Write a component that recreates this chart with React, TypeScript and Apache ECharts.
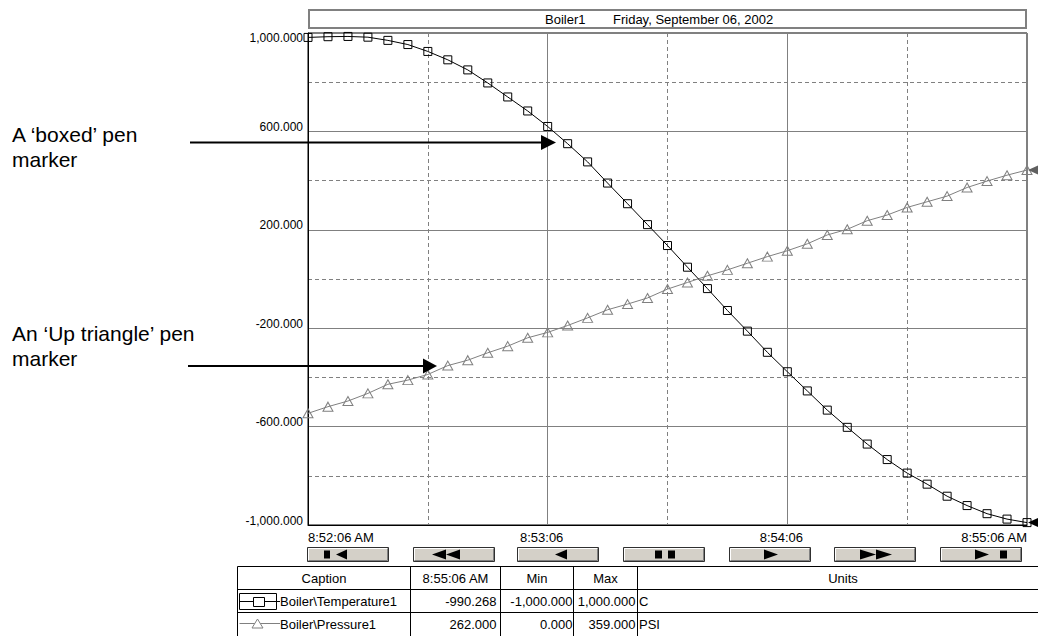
import React, { useEffect, useRef } from 'react';
import * as echarts from 'echarts';

// ---------------- data ----------------
const SAMPLE_SECONDS = [0, 5, 10, 15, 20, 25, 30, 35, 40, 45, 50, 55, 60, 65, 70, 75, 80, 85, 90, 95, 100, 105, 110, 115, 120, 125, 130, 135, 140, 145, 150, 155, 160, 165, 170, 175, 180];
const TEMPERATURE = [982, 985, 986, 983, 970, 953, 925, 891, 850, 797, 740, 683, 620, 550, 476, 390, 306, 221, 136, 48, -39, -128, -212, -298, -377, -455, -533, -603, -671, -734, -789, -834, -883, -921, -954, -976, -990.268];
const PRESSURE = [-546, -519, -496, -465, -428, -411, -388, -352, -330, -300, -273, -239, -217, -189, -158, -125, -102, -77, -41, -14, 13, 37, 64, 91, 115, 143, 179, 202, 237, 260, 291, 314, 337, 372, 398, 422, 443];
const X_TICK_SECONDS = [0, 60, 120, 180];
const X_TICK_LABELS = ['8:52:06 AM', '8:53:06', '8:54:06', '8:55:06 AM'];
const Y_LABEL_VALUES = [-1000, -600, -200, 200, 600, 1000];
const TITLE_NAME = 'Boiler1';
const TITLE_DATE = 'Friday, September 06, 2002';
const TABLE_HEADERS = ['Caption', '8:55:06 AM', 'Min', 'Max', 'Units'];
const PEN_CAPTIONS = ['Boiler\\Temperature1', 'Boiler\\Pressure1'];
const PEN_CURRENT = ['-990.268', '262.000'];
const PEN_MIN = ['-1,000.000', '0.000'];
const PEN_MAX = ['1,000.000', '359.000'];
const PEN_UNITS = ['C', 'PSI'];
const ANNOTATION_BOX = ['A \u2018boxed\u2019 pen', 'marker'];
const ANNOTATION_TRI = ['An \u2018Up triangle\u2019 pen', 'marker'];

// ---------------- helpers ----------------
const fmt = (v: number) => {
  const s = Math.abs(v).toFixed(3);
  const [i, d] = s.split('.');
  return (v < 0 ? '-' : '') + i.replace(/\B(?=(\d{3})+(?!\d))/g, ',') + '.' + d;
};

const txt = (x: number, y: number, text: string, font: string, align = 'left', z = 10, fill = '#000') => ({
  type: 'text',
  z,
  style: {
    x, y, text, font, fill,
    align, verticalAlign: 'middle',
    textAlign: align, textVerticalAlign: 'middle',
  },
});
const ln = (x1: number, y1: number, x2: number, y2: number, stroke = '#000', lineWidth = 1, z = 10) => ({
  type: 'line', z, shape: { x1, y1, x2, y2 }, style: { stroke, lineWidth },
});
const poly = (points: number[][], fill = '#000', z = 10, stroke?: string) => ({
  type: 'polygon', z, shape: { points }, style: stroke ? { fill, stroke, lineWidth: 1 } : { fill },
});
const rect = (x: number, y: number, w: number, h: number, style: any, z = 10) => ({
  type: 'rect', z, shape: { x, y, width: w, height: h }, style,
});

function buildGraphic() {
  const G: any[] = [];
  const F = '13px Arial';

  // title box
  G.push(rect(309, 10, 717, 18, { fill: '#fff', stroke: '#808080', lineWidth: 2 }));
  G.push(txt(545, 19, TITLE_NAME, F));
  G.push(txt(613, 19, TITLE_DATE, F));

  // annotations
  const AF = '21px Arial';
  G.push(txt(12, 134.5, ANNOTATION_BOX[0], AF));
  G.push(txt(12, 159.5, ANNOTATION_BOX[1], AF));
  G.push(txt(12, 333, ANNOTATION_TRI[0], AF));
  G.push(txt(12, 358, ANNOTATION_TRI[1], AF));
  G.push(ln(190, 142.5, 543, 142.5, '#000', 2, 50));
  G.push(poly([[541, 135], [556, 142.5], [541, 150]], '#000', 50));
  G.push(ln(188, 366, 425, 366, '#000', 2, 50));
  G.push(poly([[423, 358.5], [437, 366], [423, 373.5]], '#000', 50));

  // buttons
  const BX = [307, 413, 517, 623, 729, 834, 940];
  BX.forEach((bx) => {
    G.push(rect(bx + 0.5, 547.5, 81, 14, { fill: '#d4d0c8', stroke: '#303030', lineWidth: 1 }));
    G.push(ln(bx + 1.5, 548.5, bx + 80.5, 548.5, '#ffffff'));
    G.push(ln(bx + 1.5, 548.5, bx + 1.5, 560.5, '#ffffff'));
    G.push(ln(bx + 1.5, 560.5, bx + 80.5, 560.5, '#808080'));
    G.push(ln(bx + 80.5, 548.5, bx + 80.5, 560.5, '#808080'));
  });
  const T0 = 549.5, T1 = 559.5, TM = 554.5;
  const triL = (a: number, b: number) => poly([[b, T0], [a, TM], [b, T1]], '#000', 12);
  const triR = (a: number, b: number) => poly([[a, T0], [b, TM], [a, T1]], '#000', 12);
  const sq = (a: number, b: number) => rect(a, 550.5, b - a, 8, { fill: '#000' }, 12);
  G.push(sq(324, 330), triL(336, 347));
  G.push(triL(432, 446), triL(446, 460));
  G.push(triL(555, 567));
  G.push(sq(655, 662), sq(668, 675));
  G.push(triR(764, 778));
  G.push(triR(860, 876), triR(876, 892));
  G.push(triR(975, 989), sq(1000, 1007));

  // table
  const TL = 237.5, TR = 1050, TT = 566.5;
  const rows = [566.5, 589.5, 612.5];
  G.push(rect(TL, TT, TR - TL, 100, { fill: '#fff', stroke: '#000', lineWidth: 1 }));
  rows.slice(1).forEach((y) => G.push(ln(TL, y, TR, y)));
  const cols = [410.5, 500.5, 573.5, 637.5];
  cols.forEach((x) => G.push(ln(x, TT, x, 640)));
  const hc = [(TL + cols[0]) / 2, (cols[0] + cols[1]) / 2, (cols[1] + cols[2]) / 2, (cols[2] + cols[3]) / 2, 843];
  TABLE_HEADERS.forEach((h, i) => G.push(txt(hc[i], 578, h, F, 'center')));
  const ry = [601, 624];
  for (let r = 0; r < 2; r++) {
    G.push(txt(280, ry[r], PEN_CAPTIONS[r], F));
    G.push(txt(cols[1] - 4, ry[r], PEN_CURRENT[r], F, 'right'));
    G.push(txt(cols[2] - 1, ry[r], PEN_MIN[r], F, 'right'));
    G.push(txt(cols[3] - 2, ry[r], PEN_MAX[r], F, 'right'));
    G.push(txt(cols[3] + 1.5, ry[r], PEN_UNITS[r], F));
  }
  // legend glyphs
  G.push(rect(239.5, 593.5, 37, 16, { fill: 'none', stroke: '#000', lineWidth: 1 }));
  G.push(ln(239.5, 601.5, 280, 601.5, '#000'));
  G.push(rect(253.5, 597.5, 11, 9, { fill: '#fff', stroke: '#000', lineWidth: 1 }, 11));
  G.push(ln(239.5, 623.5, 280, 623.5, '#808080'));
  G.push(poly([[252, 628], [257.5, 619], [263, 628]], '#fff', 11, '#808080'));

  return G;
}

function buildOption(): any {
  const axisFont = 'Arial';
  return {
    animation: false,
    backgroundColor: '#fff',
    grid: { left: 308, top: 33, width: 719, height: 492, show: true, borderColor: '#000', borderWidth: 1, backgroundColor: '#fff' },
    xAxis: [
      {
        type: 'value', min: 0, max: 180, interval: 30,
        axisLine: { show: true, onZero: false, lineStyle: { color: '#000' } },
        axisTick: { show: false },
        axisLabel: {
          color: '#000', fontFamily: axisFont, fontSize: 13, margin: 6,
          alignMinLabel: 'left', alignMaxLabel: 'right',
          formatter: (v: number) => {
            const i = X_TICK_SECONDS.indexOf(v);
            if (i < 0) return '';
            if (i === 0 || i === X_TICK_SECONDS.length - 1) return X_TICK_LABELS[i];
            return '{mid|' + X_TICK_LABELS[i] + '}';
          },
          rich: { mid: { fontFamily: axisFont, fontSize: 13, color: '#000', padding: [0, 12, 0, 0] } },
        },
        splitLine: { show: true, lineStyle: { color: ['rgba(0,0,0,0)', '#808080'], type: [4, 3], width: 1 } },
      },
      {
        type: 'value', min: 0, max: 180, interval: 30,
        axisLine: { show: false, onZero: false }, axisTick: { show: false }, axisLabel: { show: false },
        splitLine: { show: true, lineStyle: { color: ['#808080', 'rgba(0,0,0,0)'], width: 1 } },
      },
    ],
    yAxis: [
      {
        type: 'value', min: -1000, max: 1000, interval: 200,
        axisLine: { show: true, onZero: false, lineStyle: { color: '#000' } },
        axisTick: { show: false },
        axisLabel: {
          color: '#000', fontFamily: axisFont, fontSize: 12, margin: 5,
          verticalAlign: 'bottom', verticalAlignMaxLabel: 'top', lineHeight: 9,
          formatter: (v: number) => (Y_LABEL_VALUES.indexOf(v) >= 0 ? fmt(v) : ''),
        },
        splitLine: { show: true, lineStyle: { color: ['rgba(0,0,0,0)', '#808080'], type: [4, 3], width: 1 } },
      },
      {
        type: 'value', min: -1000, max: 1000, interval: 200,
        axisLine: { show: false, onZero: false }, axisTick: { show: false }, axisLabel: { show: false },
        splitLine: { show: true, lineStyle: { color: ['#808080', 'rgba(0,0,0,0)'], width: 1 } },
      },
    ],
    series: [
      {
        type: 'line', name: PEN_CAPTIONS[1], xAxisIndex: 0, yAxisIndex: 0, z: 3,
        data: SAMPLE_SECONDS.map((s, i) => [s, PRESSURE[i]]),
        symbol: 'triangle', symbolSize: [10, 9], showAllSymbol: true,
        lineStyle: { color: '#808080', width: 1 },
        itemStyle: { color: 'rgba(0,0,0,0)', borderColor: '#808080', borderWidth: 1 },
        markPoint: {
          silent: true, symbol: 'triangle', symbolRotate: 90, symbolSize: [9, 10], symbolOffset: [6, 0],
          itemStyle: { color: '#606060', borderWidth: 0 }, label: { show: false },
          data: [{ coord: [SAMPLE_SECONDS[SAMPLE_SECONDS.length - 1], PRESSURE[PRESSURE.length - 1]] }],
        },
      },
      {
        type: 'line', name: PEN_CAPTIONS[0], xAxisIndex: 0, yAxisIndex: 0, z: 4,
        data: SAMPLE_SECONDS.map((s, i) => [s, TEMPERATURE[i]]),
        symbol: 'rect', symbolSize: 8, showAllSymbol: true,
        lineStyle: { color: '#000', width: 1 },
        itemStyle: { color: 'rgba(0,0,0,0)', borderColor: '#000', borderWidth: 1 },
        markPoint: {
          silent: true, symbol: 'triangle', symbolRotate: 90, symbolSize: [9, 10], symbolOffset: [6, 0],
          itemStyle: { color: '#000', borderWidth: 0 }, label: { show: false },
          data: [{ coord: [SAMPLE_SECONDS[SAMPLE_SECONDS.length - 1], TEMPERATURE[TEMPERATURE.length - 1]] }],
        },
      },
    ],
    graphic: buildGraphic(),
  };
}

export default function App() {
  const ref = useRef<HTMLDivElement>(null);
  useEffect(() => {
    document.body.style.margin = '0';
    const chart = echarts.init(ref.current as HTMLDivElement, null, { renderer: 'svg' });
    chart.setOption(buildOption());
    return () => chart.dispose();
  }, []);
  return <div ref={ref} style={{ width: 1038, height: 636, background: '#fff' }} />;
}
